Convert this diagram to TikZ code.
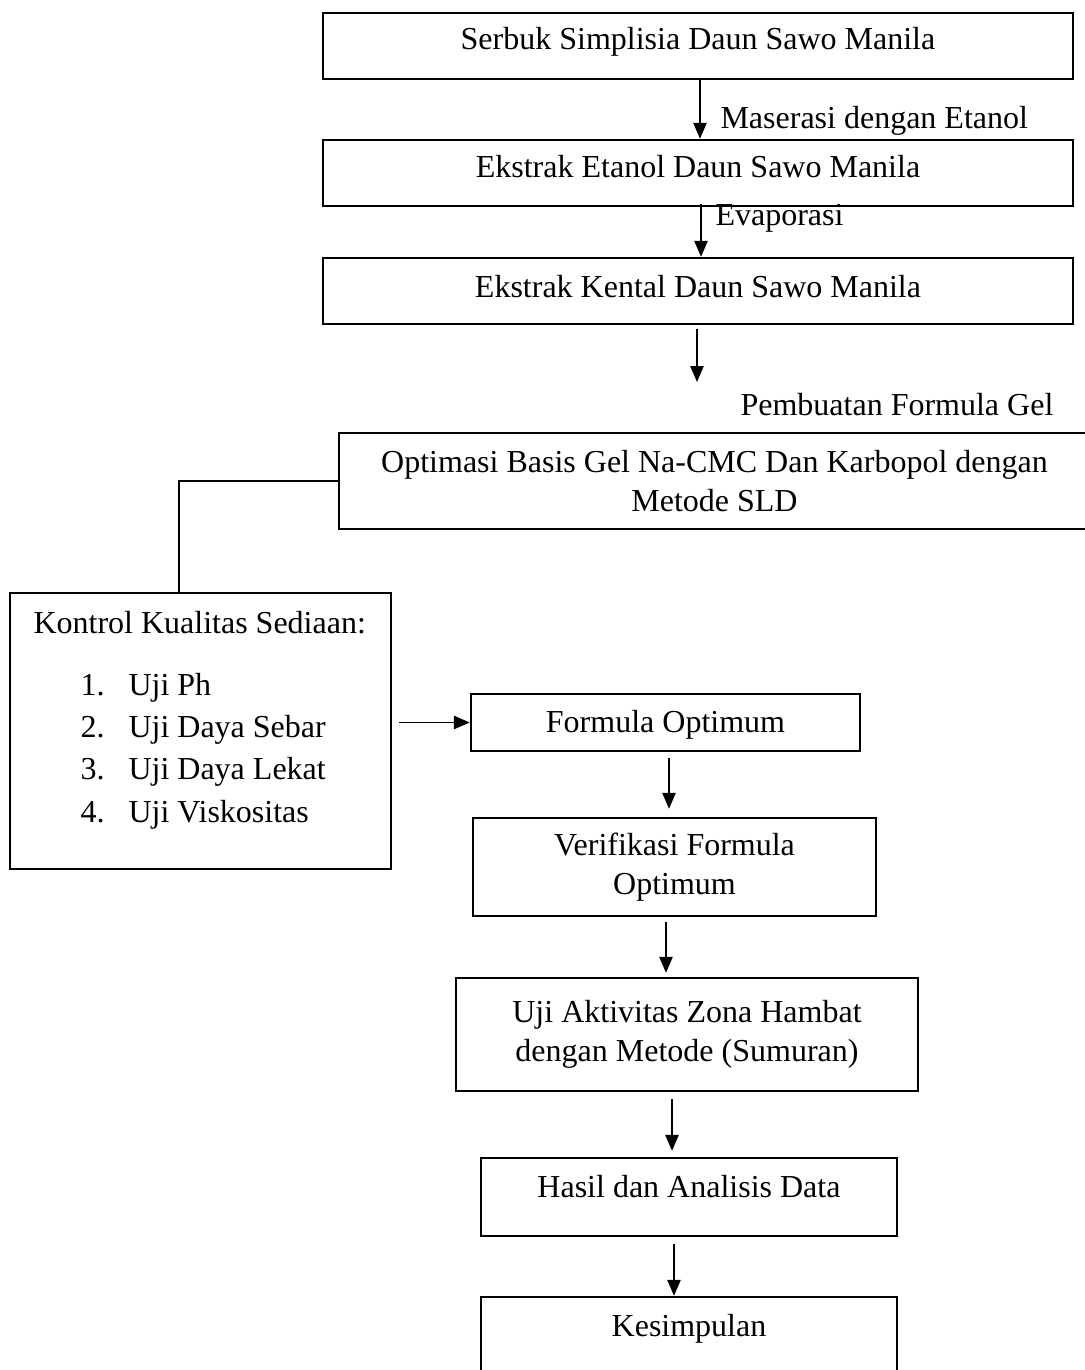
\documentclass[tikz,border=0pt]{standalone}
\usepackage{fontspec}
\setmainfont{Liberation Serif}
\usetikzlibrary{calc,arrows.meta}
\usetikzlibrary{positioning}
\newcommand{\pxl}{0.375pt}

\begin{document}
\begin{tikzpicture}[x=\pxl, y=-\pxl, box/.style={draw, line width=0.9pt, inner sep=0pt, align=center, font=\fontsize{12pt}{14.5pt}\selectfont
}, lift/.style={text height=8pt, text depth=#1
}, txt/.style={inner sep=0pt, anchor=base west, font=\fontsize{12pt}{14.5pt}\selectfont
}, arr/.style={line width=0.6pt, -{Triangle[length=6pt, width=5pt]}
}]
\useasboundingbox (0,0) rectangle (1085,1370);
\clip (0,0) rectangle (1085,1370);

\node[box, lift=5.1pt, minimum width=750*\pxl, minimum height=66*\pxl] (serbuk) at (698,46) {Serbuk Simplisia Daun Sawo Manila};
\node[box, lift=4.4pt, minimum width=750*\pxl, minimum height=66*\pxl] (etanol) at (698,173) {Ekstrak Etanol Daun Sawo Manila};
\node[box, lift=2.9pt, minimum width=750*\pxl, minimum height=66*\pxl] (kental) at (698,291) {Ekstrak Kental Daun Sawo Manila};
\node[box, minimum width=751*\pxl, minimum height=96*\pxl] (optimasi) at (714.5,481) {Optimasi Basis Gel Na-CMC Dan Karbopol dengan\\Metode SLD};
\node[box, minimum width=381*\pxl, minimum height=276*\pxl] (kontrol) at (200.5,731) {};
\node[box, lift=0.6pt, minimum width=389*\pxl, minimum height=57*\pxl] (formula) at (665.5,722.5) {Formula Optimum};
\node[box, minimum width=403*\pxl, minimum height=98*\pxl] (verif) at (674.5,867) {Verifikasi Formula\\Optimum};
\node[box, minimum width=462*\pxl, minimum height=113*\pxl] (uji) at (687,1034.5) {Uji Aktivitas Zona Hambat\\dengan Metode (Sumuran)};
\node[box, lift=7.4pt, minimum width=416*\pxl, minimum height=78*\pxl] (hasil) at (689,1197) {Hasil dan Analisis Data};
\node[box, lift=7.4pt, minimum width=416*\pxl, minimum height=78*\pxl] (kesimpulan) at (689,1336) {Kesimpulan};

% isi kotak kontrol
\node[txt] (kq) at (33,633) {Kontrol Kualitas Sediaan:};
\foreach \n/\t/\y in {1/Uji Ph/695, 2/Uji Daya Sebar/737, 3/Uji Daya Lekat/779, 4/Uji Viskositas/822}{
  \node[txt] (kn\n) at (80,\y) {\n.};
  \node[txt] (kt\n) at (128,\y) {\t};}

\node[txt] (maserasi) at (720,129) {Maserasi dengan Etanol};
\node[txt] (evaporasi) at (715,225) {Evaporasi};
\node[txt] (pembuatan) at (740,415) {Pembuatan Formula Gel};

\foreach \a/\b/\dx/\g/\h in {serbuk/etanol/2/0/0, etanol/kental/3/-3/0, formula/verif/3.5/6/8, verif/uji/-8.5/5/4, uji/hasil/-15/7/6, hasil/kesimpulan/-15/7/0}{
  \draw[arr] ($(\a.south)+(\dx,\g)$) -- ($(\a.south |- \b.north)+(\dx,-\h)$);}

\coordinate (gel) at (697,382);
\draw[arr] ($(kental.south -| gel)+(0,4)$) -- (gel);

\draw[line width=0.5pt] (optimasi.west) -| ($(kontrol.north)+(-21.5,0)$);
\draw[arr] ($(kontrol.east |- formula.west)+(7,0)$) -- (formula.west);
\end{tikzpicture}
\end{document}
